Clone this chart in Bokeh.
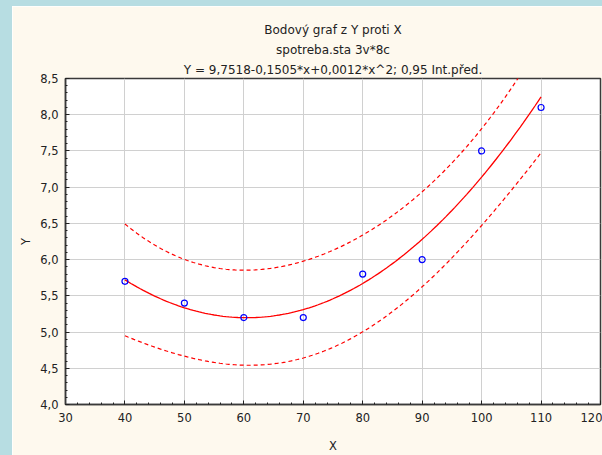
import numpy as np
from bokeh.plotting import figure
from bokeh.models import Div, Title, SingleIntervalTicker, Range1d
from bokeh.layouts import column, row
from bokeh.embed import file_html
from bokeh.resources import INLINE

# ---- data ----
x_vals = [40, 50, 60, 70, 80, 90, 100, 110]
y_vals = [5.7, 5.4, 5.2, 5.2, 5.8, 6.0, 7.5, 8.1]

x_ticks = [30, 40, 50, 60, 70, 80, 90, 100, 110, 120]
x_tick_labels = ["30", "40", "50", "60", "70", "80", "90", "100", "110", "120"]
y_ticks = [4.0, 4.5, 5.0, 5.5, 6.0, 6.5, 7.0, 7.5, 8.0, 8.5]
y_tick_labels = ["4,0", "4,5", "5,0", "5,5", "6,0", "6,5", "7,0", "7,5", "8,0", "8,5"]

title_lines = [
    "Bodový graf z Y proti X",
    "spotreba.sta 3v*8c",
    "Y = 9,7518-0,1505*x+0,0012*x^2; 0,95 Int.před.",
]
x_label = "X"
y_label = "Y"
t_crit = 2.5706  # Student t(0.975, df=5) for the 0.95 prediction interval

# ---- quadratic regression and 95% prediction band from the points ----
X = np.array(x_vals, dtype=float)
Yv = np.array(y_vals, dtype=float)
A = np.vander(X, 3)
coef, *_ = np.linalg.lstsq(A, Yv, rcond=None)
resid = Yv - A @ coef
dof = len(X) - 3
s2 = float(resid @ resid) / dof
XtX_inv = np.linalg.inv(A.T @ A)
xs = np.linspace(X.min(), X.max(), 141)
As = np.vander(xs, 3)
yhat = As @ coef
se = np.sqrt(s2 * (1.0 + np.einsum("ij,jk,ik->i", As, XtX_inv, As)))
upper = yhat + t_crit * se
lower = yhat - t_crit * se

# ---- styling ----
TEAL = "#b7dde2"
CREAM = "#fef9ee"
FONT = "DejaVu Sans"
FS = "11.5px"
TFS = "12px"
TXT = "#222222"

p = figure(
    width=590, height=449,
    x_range=Range1d(x_ticks[0], x_ticks[-1]),
    y_range=Range1d(y_ticks[0], y_ticks[-1]),
    output_backend="svg", toolbar_location=None,
    min_border_left=53, min_border_right=2, min_border_top=72, min_border_bottom=49,
    background_fill_color="white", border_fill_color=CREAM,
    outline_line_color="#3a3a3a", outline_line_width=1.5,
)

xt = SingleIntervalTicker(interval=10, num_minor_ticks=5)
yt = SingleIntervalTicker(interval=0.5, num_minor_ticks=5)

def style_axis(ax, ticker, overrides):
    ax.ticker = ticker
    ax.major_tick_in = 4
    ax.major_tick_out = 0
    ax.minor_tick_in = 2
    ax.minor_tick_out = 0
    ax.major_tick_line_color = "#222222"
    ax.minor_tick_line_color = "#222222"
    ax.axis_line_color = "#3a3a3a"
    ax.axis_line_width = 1.5
    ax.major_label_text_font = FONT
    ax.major_label_text_font_size = FS
    ax.major_label_text_color = TXT
    ax.major_label_overrides = overrides
    ax.axis_label_text_font = FONT
    ax.axis_label_text_font_size = FS
    ax.axis_label_text_font_style = "normal"
    ax.axis_label_text_color = TXT

x_over = {v: l for v, l in zip(x_ticks, x_tick_labels)}
y_over = {v: l for v, l in zip(y_ticks, y_tick_labels)}

style_axis(p.xaxis[0], xt, x_over)
p.xaxis[0].axis_label = x_label
p.xaxis[0].major_label_standoff = 8
p.xaxis[0].axis_label_standoff = 14
style_axis(p.yaxis[0], yt, y_over)
p.yaxis[0].axis_label = y_label
p.yaxis[0].major_label_standoff = 7
p.yaxis[0].axis_label_standoff = 4

p.xgrid.ticker = xt
p.ygrid.ticker = yt
p.xgrid.grid_line_color = "#d0d0d0"
p.ygrid.grid_line_color = "#d0d0d0"
p.xgrid.grid_line_width = 1
p.ygrid.grid_line_width = 1

# ---- marks ----
p.line(xs, upper, line_color="#ff0000", line_width=1.2, line_dash="4 3")
p.line(xs, lower, line_color="#ff0000", line_width=1.2, line_dash="4 3")
p.line(xs, yhat, line_color="#ff0000", line_width=1.3)
p.scatter(x_vals, y_vals, marker="circle", size=6, line_color="#0000ff",
          fill_color=None, line_width=1.2)

# ---- titles: nearest to the frame is added first ----
p.title.visible = False
for txt in reversed(title_lines):
    p.add_layout(Title(text=txt, align="center", standoff=4,
                       text_font=FONT, text_font_size=TFS, text_font_style="normal",
                       text_color=TXT), "above")

top_strip = Div(width=602, height=6, margin=0, styles={"background-color": TEAL})
left_strip = Div(width=12, height=449, margin=0, styles={"background-color": TEAL})
layout = column(top_strip, row(left_strip, p, spacing=0, margin=0), spacing=0, margin=0)

open("out.html", "w").write(file_html(layout, INLINE))
